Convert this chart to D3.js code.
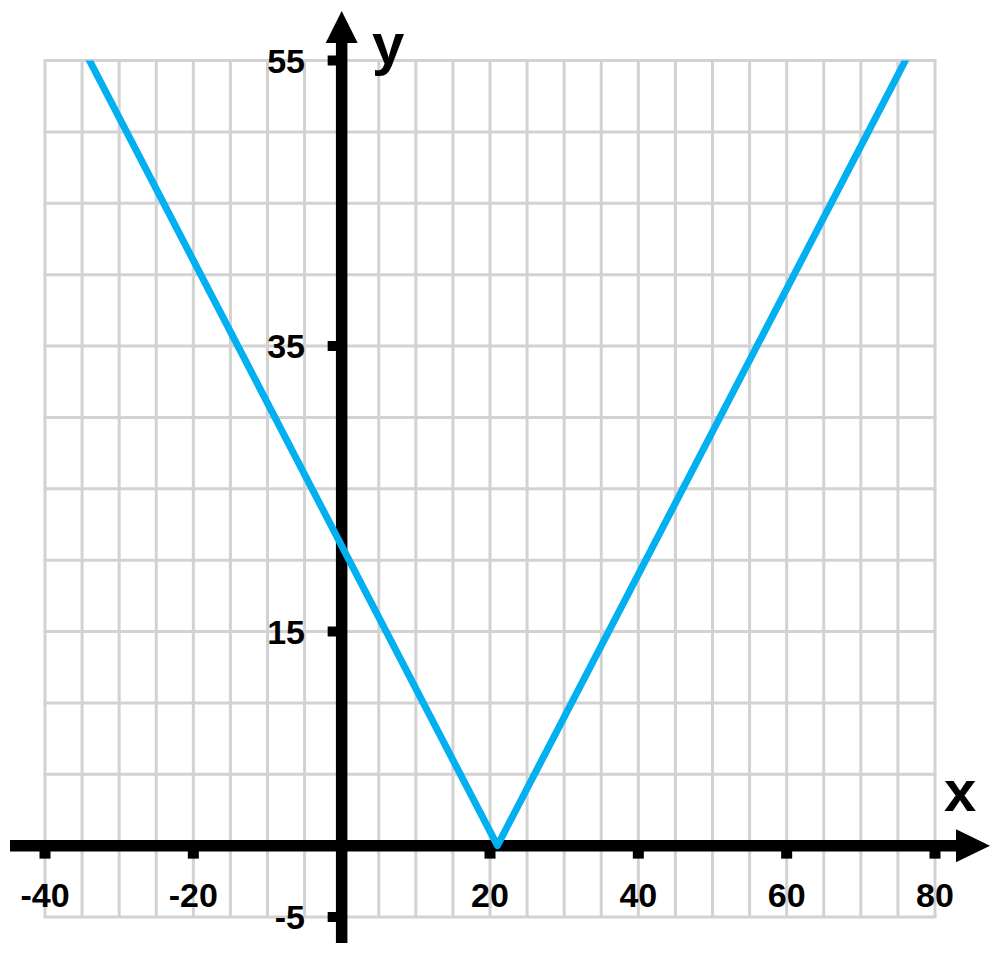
<!DOCTYPE html>
<html>
<head>
<meta charset="utf-8">
<script src="https://cdn.jsdelivr.net/npm/d3@7/dist/d3.min.js"></script>
<style>
  html, body { margin: 0; padding: 0; background: #fff; }
  svg { display: block; }
  text { font-family: "Liberation Sans", Arial, sans-serif; font-weight: bold; fill: #000; }
</style>
</head>
<body>
<svg id="chart" width="1000" height="963"></svg>
<script>
// ---- data ----
const xDomain = [-40, 80];
const yDomain = [-5, 55];
const gridStep = 5;
const xTickValues = [-40, -20, 20, 40, 60, 80];
const yTickValues = [-5, 15, 35, 55];
const lineX = [-34, 21, 76];
const lineY = [55, 0, 55];
const xAxisTitle = "x";
const yAxisTitle = "y";

// ---- layout ----
const svg = d3.select("#chart");
const x = d3.scaleLinear().domain(xDomain).range([45, 935]);
const y = d3.scaleLinear().domain(yDomain).range([917, 60.5]);

const gridColor = "#d2d2d2";
const lineColor = "#00b0f0";

// grid
const gGrid = svg.append("g");
const xGrid = d3.range(xDomain[0], xDomain[1] + 0.001, gridStep);
const yGrid = d3.range(yDomain[0], yDomain[1] + 0.001, gridStep);
gGrid.selectAll("line.v").data(xGrid).join("line")
  .attr("x1", d => x(d)).attr("x2", d => x(d))
  .attr("y1", y(yDomain[0])).attr("y2", y(yDomain[1]))
  .attr("stroke", gridColor).attr("stroke-width", 3);
gGrid.selectAll("line.h").data(yGrid).join("line")
  .attr("y1", d => y(d)).attr("y2", d => y(d))
  .attr("x1", x(xDomain[0]) - 1.5).attr("x2", x(xDomain[1]) + 1.5)
  .attr("stroke", gridColor).attr("stroke-width", 3);

// axes
const x0 = x(0), y0 = y(0);
const axisW = 11.5;
// x axis
svg.append("line")
  .attr("x1", 10).attr("x2", 958)
  .attr("y1", y0).attr("y2", y0)
  .attr("stroke", "#000").attr("stroke-width", axisW);
svg.append("path")
  .attr("d", `M956,${y0 - 16.5}L990,${y0}L956,${y0 + 16.5}Z`)
  .attr("fill", "#000");
// y axis
svg.append("line")
  .attr("x1", x0).attr("x2", x0)
  .attr("y1", 943).attr("y2", 41)
  .attr("stroke", "#000").attr("stroke-width", axisW);
svg.append("path")
  .attr("d", `M${x0 - 16},43L${x0},11L${x0 + 16},43Z`)
  .attr("fill", "#000");

// x ticks
svg.selectAll("rect.xt").data(xTickValues).join("rect")
  .attr("x", d => x(d) - 5.5).attr("y", y0)
  .attr("width", 11).attr("height", 13)
  .attr("fill", "#000");
svg.selectAll("text.xl").data(xTickValues).join("text")
  .attr("x", d => x(d)).attr("y", 907)
  .attr("text-anchor", "middle")
  .attr("font-size", 34)
  .text(d => d);

// y ticks
svg.selectAll("rect.yt").data(yTickValues).join("rect")
  .attr("x", x0 - 14).attr("y", d => y(d) - 5)
  .attr("width", 14).attr("height", 10)
  .attr("fill", "#000");
svg.selectAll("text.yl").data(yTickValues).join("text")
  .attr("x", 305).attr("y", d => y(d) + 12)
  .attr("text-anchor", "end")
  .attr("font-size", 34)
  .text(d => d);

// axis titles
svg.append("text").attr("x", 372).attr("y", 64)
  .attr("font-size", 58).text(yAxisTitle);
svg.append("text").attr("x", 944).attr("y", 811)
  .attr("font-size", 58).text(xAxisTitle);

// function line
svg.append("clipPath").attr("id", "clip")
  .append("rect")
  .attr("x", 0).attr("y", y(yDomain[1]))
  .attr("width", 1000).attr("height", 963);
const pts = lineX.map((v, i) => [v, lineY[i]]);
const line = d3.line().x(d => x(d[0])).y(d => y(d[1]));
svg.append("path")
  .datum(pts)
  .attr("d", line)
  .attr("fill", "none")
  .attr("stroke", lineColor)
  .attr("stroke-width", 7)
  .attr("stroke-linejoin", "round")
  .attr("stroke-linecap", "square")
  .attr("clip-path", "url(#clip)");
</script>
</body>
</html>
